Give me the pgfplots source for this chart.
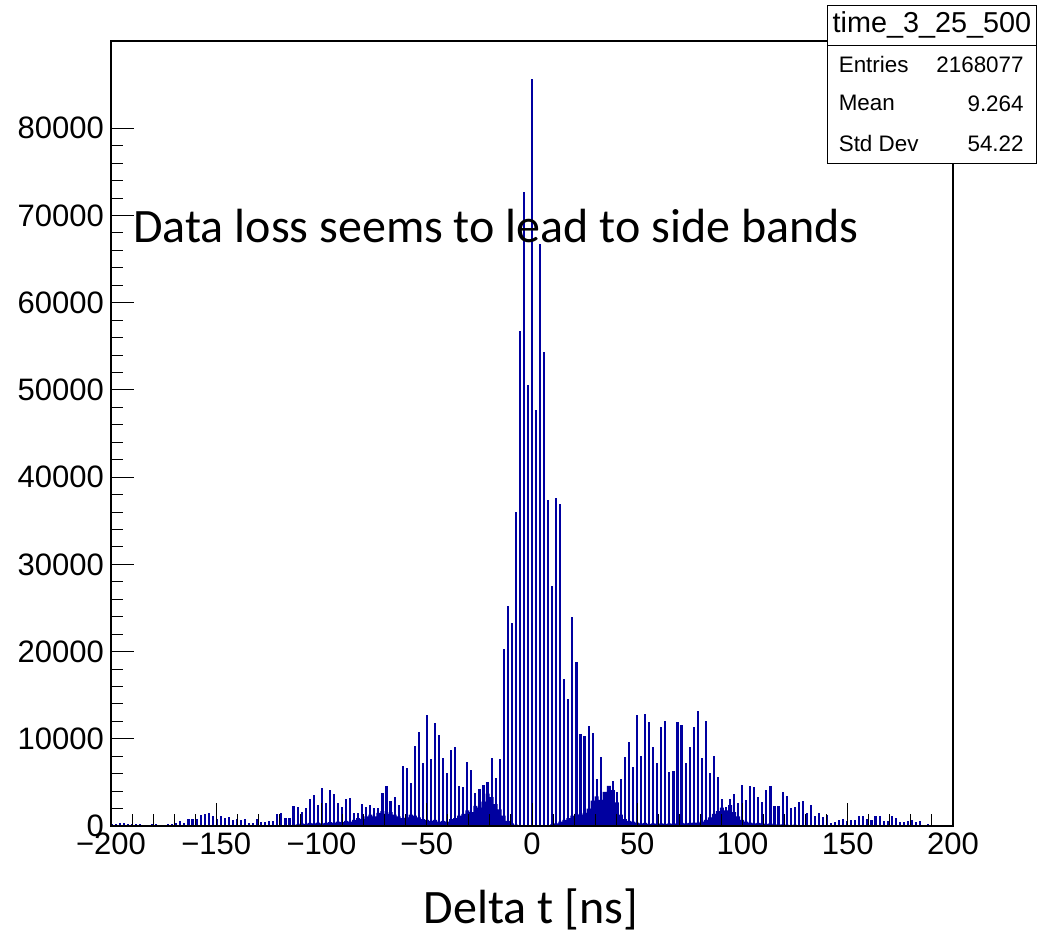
\documentclass[border=0pt]{standalone}
\usepackage{pgfplots}
\pgfplotsset{compat=1.18}
\usepackage{pgfplotstable}
\usepackage{fontspec}
\setmainfont{Liberation Sans}
\newfontfamily\carlito{Carlito}
\definecolor{hblue}{RGB}{0,0,160}

\pgfplotstableread{
x y
-199.68 200
-197.76 230
-195.84 300
-193.92 300
-192.00 190
-190.08 230
-188.16 190
-186.24 230
-184.32 80
-182.40 110
-180.48 190
-178.56 190
-176.64 110
-174.72 150
-172.80 190
-170.88 230
-168.96 300
-167.04 570
-165.12 380
-163.20 790
-161.28 790
-159.36 790
-157.44 1300
-155.52 1400
-153.60 1500
-151.68 1200
-149.76 790
-147.84 1150
-145.92 950
-144.00 1070
-142.08 690
-140.16 790
-138.24 690
-136.32 790
-134.40 380
-132.48 380
-130.56 790
-128.64 500
-126.72 500
-124.80 570
-122.88 570
-120.96 1330
-119.04 1450
-117.12 950
-115.20 950
-113.28 2290
-111.36 2210
-109.44 1570
-107.52 2100
-105.60 3100
-103.68 3520
-101.76 2410
-99.84 4320
-97.92 2680
-96.00 4130
-94.08 3700
-92.16 2680
-90.24 2140
-88.32 3100
-86.40 3170
-84.48 1520
-82.56 1450
-80.64 2520
-78.72 2200
-76.80 2370
-74.88 2100
-72.96 2030
-71.04 3740
-69.12 4580
-67.20 2870
-65.28 3290
-63.36 2410
-61.44 6910
-59.52 6690
-57.60 4890
-55.68 9170
-53.76 10740
-51.84 7260
-49.92 12720
-48.00 7680
-46.08 11770
-44.16 10430
-42.24 7790
-40.32 6040
-38.40 8710
-36.48 9020
-34.56 4580
-32.64 4500
-30.72 7370
-28.80 6420
-26.88 3740
-24.96 4200
-23.04 4700
-21.12 5100
-19.20 7760
-17.28 5540
-15.36 7640
-13.44 20250
-11.52 25250
-9.60 23300
-7.68 36020
-5.76 56800
-3.84 72700
-1.92 50600
0.00 85600
1.92 47700
3.84 66700
5.76 54400
7.68 37400
9.60 27500
11.52 37550
13.44 36900
15.36 16800
17.28 14600
19.20 24000
21.12 18800
23.04 10540
24.96 10350
26.88 11460
28.80 10620
30.72 5350
32.64 7870
34.56 3550
36.48 4590
38.40 5190
40.32 3930
42.24 5350
44.16 7870
46.08 9660
48.00 6800
49.92 12720
51.84 8020
53.76 12840
55.68 11880
57.60 9020
59.52 7180
61.44 11310
63.36 12030
65.28 6190
67.20 6270
69.12 11880
71.04 11570
72.96 7180
74.88 9090
76.80 11310
78.72 13180
80.64 7760
82.56 12030
84.48 6040
86.40 8060
88.32 5580
90.24 3090
92.16 2210
94.08 3050
96.00 3700
97.92 2620
99.84 4750
101.76 2980
103.68 4630
105.60 4420
107.52 3290
109.44 2700
111.36 4090
113.28 4550
115.20 2240
117.12 2270
119.04 3950
120.96 3410
122.88 2070
124.80 2230
126.72 2730
128.64 2860
130.56 1470
132.48 2370
134.40 1120
136.32 1450
138.24 980
140.16 1270
142.08 400
144.00 480
145.92 640
147.84 830
149.76 600
151.68 700
153.60 720
155.52 1200
157.44 1200
159.36 830
161.28 640
163.20 1200
165.12 1200
167.04 520
168.96 520
170.88 1090
172.80 900
174.72 480
176.64 480
178.56 600
180.48 640
182.40 440
184.32 520
186.24 170
188.16 250
190.08 130
192.00 60
193.92 20
195.84 60
197.76 170
199.68 60
}\spikes

\pgfplotstableread{
x y
-112.32 200
-110.40 300
-108.48 250
-106.56 350
-104.64 300
-102.72 400
-100.80 300
-98.88 350
-96.96 450
-95.04 400
-93.12 500
-91.20 450
-89.28 600
-87.36 500
-85.44 700
-83.52 900
-81.60 800
-79.68 1100
-77.76 1300
-75.84 1100
-73.92 1500
-72.00 1700
-70.08 1400
-68.16 1600
-66.24 1300
-64.32 1100
-62.40 900
-60.48 1000
-58.56 1300
-56.64 1200
-54.72 1000
-52.80 800
-50.88 700
-48.96 600
-47.04 700
-45.12 500
-43.20 600
-41.28 500
-39.36 800
-37.44 900
-35.52 1200
-33.60 1400
-31.68 1800
-29.76 1600
-27.84 2300
-25.92 2100
-24.00 2800
-22.08 3700
-20.16 3300
-18.24 2500
-16.32 1900
-14.40 1200
-12.48 600
-10.56 300
-8.64 150
-6.72 0
4.80 0
6.72 100
8.64 200
10.56 300
12.48 500
14.40 700
16.32 900
18.24 1200
20.16 1400
22.08 1300
24.00 1500
25.92 2000
27.84 2900
29.76 3400
31.68 3000
33.60 3900
35.52 4600
37.44 4100
39.36 2700
41.28 1300
43.20 800
45.12 600
47.04 500
48.96 400
50.88 300
52.80 350
54.72 250
56.64 300
58.56 250
60.48 300
62.40 250
64.32 300
66.24 250
68.16 300
70.08 350
72.00 300
73.92 350
75.84 400
77.76 400
79.68 500
81.60 700
83.52 1000
85.44 1400
87.36 1700
89.28 2100
91.20 1800
93.12 2400
95.04 1600
96.96 1100
98.88 700
100.80 500
102.72 400
104.64 300
106.56 350
108.48 300
110.40 250
112.32 300
114.24 200
116.16 150
118.08 200
120.00 150
121.92 100
123.84 150
125.76 100
127.68 0
}\fillprof

\begin{document}
\begin{tikzpicture}
\begin{axis}[
  at={(0,0)}, anchor=south west,
  scale only axis, width=421pt, height=392.5pt,
  xmin=-200, xmax=200, ymin=0, ymax=90000,
  axis on top,
  scaled y ticks=false, scaled x ticks=false,
  tick align=inside, tick pos=left,
  xtick={-200,-150,-100,-50,0,50,100,150,200},
  xticklabels={−200,−150,−100,−50,0,50,100,150,200},
  ytick={0,10000,20000,30000,40000,50000,60000,70000,80000},
  yticklabels={0,10000,20000,30000,40000,50000,60000,70000,80000},
  minor x tick num=4, minor y tick num=4,
  major tick length=11.5pt, minor tick length=6pt,
  ticklabel style={font=\fontsize{15.5}{18}\selectfont},
  axis line style={line width=0.8pt},
  every tick/.style={black, line width=0.5pt},
]
\addplot[const plot, fill=hblue, draw=none] table {\fillprof} \closedcycle;
\addplot[ycomb, hblue, line width=1.05pt, mark=none] table {\spikes};
\end{axis}
\node[anchor=base west, inner sep=0, font=\carlito\fontsize{24}{28}\selectfont] at (11pt,291.5pt) {Data loss seems to lead to side bands};
\node[anchor=base, inner sep=0, font=\carlito\fontsize{24}{28}\selectfont] at (210pt,-48.5pt) {Delta t [ns]};
\draw[fill=white, line width=0.5pt] (358.2pt,331.4pt) rectangle (462.5pt,410pt);
\draw[line width=0.5pt] (358.2pt,390.2pt) -- (462.5pt,390.2pt);
\node[font=\fontsize{14.4}{16}\selectfont] at (410.5pt,400.5pt) {time\_3\_25\_500};
\node[anchor=west, inner sep=0, font=\fontsize{11.2}{13}\selectfont] at (363.7pt,380.5pt) {Entries};
\node[anchor=east, inner sep=0, font=\fontsize{11.2}{13}\selectfont] at (456.5pt,380.5pt) {2168077};
\node[anchor=west, inner sep=0, font=\fontsize{11.2}{13}\selectfont] at (363.7pt,361.3pt) {Mean};
\node[anchor=east, inner sep=0, font=\fontsize{11.2}{13}\selectfont] at (456.5pt,361.3pt) {9.264};
\node[anchor=west, inner sep=0, font=\fontsize{11.2}{13}\selectfont] at (363.7pt,341pt) {Std Dev};
\node[anchor=east, inner sep=0, font=\fontsize{11.2}{13}\selectfont] at (456.5pt,341pt) {54.22};
\pgfresetboundingbox
\path (-55.5pt,-55pt) rectangle (463pt,413pt);
\end{tikzpicture}
\end{document}
